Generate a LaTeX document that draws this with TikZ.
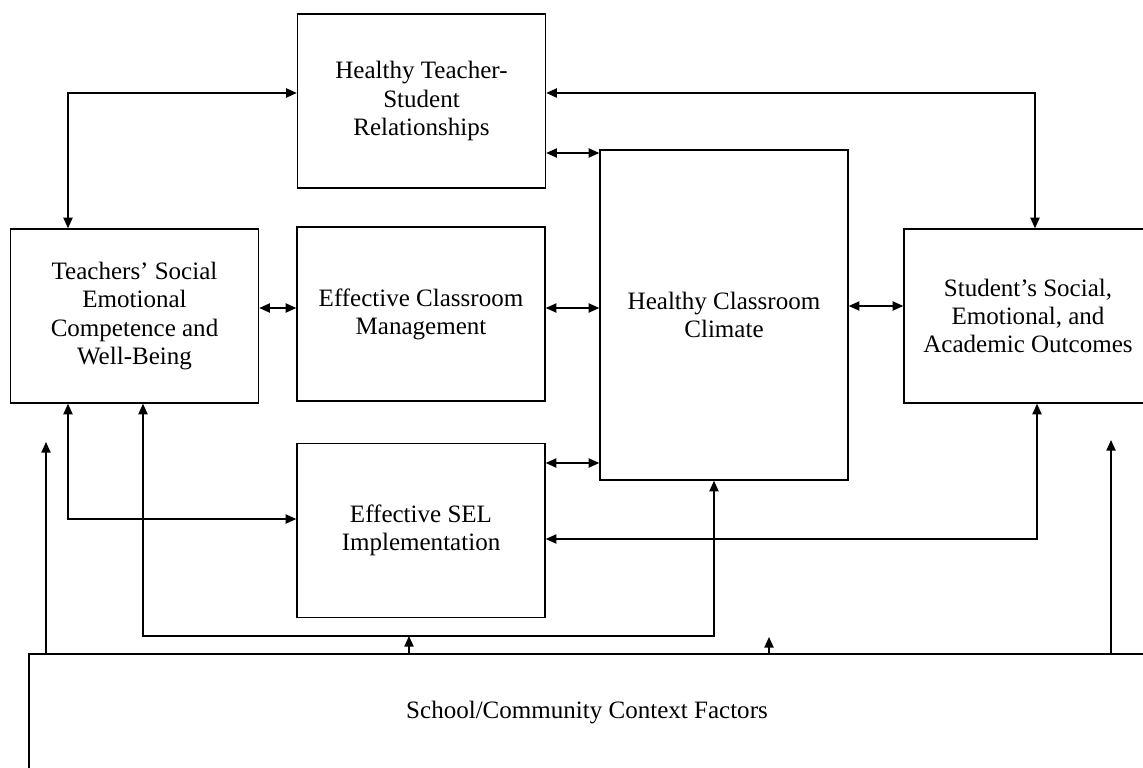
\documentclass[tikz,border=0pt]{standalone}
\usepackage{fontspec}
\setmainfont{Liberation Serif}
\usetikzlibrary{arrows.meta}

\begin{document}
\begin{tikzpicture}[
    x = 0.025cm, y = -0.025cm,
    line width = 1pt,
    every node/.style = {font = \fontsize{17.8}{20}\selectfont, align = center},
    box/.style = {draw, minimum width = 6.2cm, minimum height = 4.35cm, inner sep = 0pt},
    twoway/.style = {{Triangle[length=7.5pt,width=6.5pt]}-{Triangle[length=7.5pt,width=6.5pt]}},
    oneway/.style = {-{Triangle[length=7.5pt,width=6.5pt]}}]

\useasboundingbox (0,0) rectangle (1143,768);
\clip (0,0) rectangle (1143,768);

\node[box] (rel) at (421.5,101) {Healthy Teacher-\\Student\\Relationships};
\node[box] (teach) at (134.5,316) {Teachers' Social\\Emotional\\Competence and\\Well-Being};
\node[box] (mgmt) at (421,314) {Effective Classroom\\Management};
\node[box, minimum height = 8.25cm] (climate) at (724,315) {Healthy Classroom\\Climate};
\node[box] (outc) at (1028,316) {Student's Social,\\Emotional, and\\Academic Outcomes};
\node[box] (sel) at (421,530.5) {Effective SEL\\Implementation};
\node[box, minimum width = 27.9cm, minimum height = 2.95cm] (ctx) at (587,713)
    {School/Community Context Factors};

% bend points and row heights
\coordinate (ka) at (68,93);
\coordinate (kb) at (1035,93);
\coordinate (kc) at (68,519);
\coordinate (kd) at (1037,539);
\coordinate (ke) at (143,636);
\coordinate (kf) at (714,636);
\coordinate (r1) at (0,153);
\coordinate (r2) at (0,308);
\coordinate (r3) at (0,306);
\coordinate (r4) at (0,463);

\draw[twoway] (teach.north -| ka) |- (rel.west |- ka);
\draw[twoway] (rel.east |- kb) -| (outc.north -| kb);
\draw[twoway] (rel.east |- r1) -- (climate.west |- r1);
\draw[twoway] (teach.east |- r2) -- (mgmt.west |- r2);
\draw[twoway] (mgmt.east |- r2) -- (climate.west |- r2);
\draw[twoway] (climate.east |- r3) -- (outc.west |- r3);
\draw[twoway] (sel.east |- r4) -- (climate.west |- r4);
\draw[twoway] (teach.south -| kc) |- (sel.west |- kc);
\draw[twoway] (outc.south -| kd) |- (sel.east |- kd);
\draw[twoway] (teach.south -| ke) |- (kf) -- (climate.south -| kf);

% context factors feeding upwards
\coordinate (kg) at (46,442);
\coordinate (kh) at (1111,440);
\coordinate (ki) at (409,636);
\coordinate (kj) at (769,637);
\foreach \p in {kg,kh,ki,kj}
    \draw[oneway] (ctx.north -| \p) -- (\p);
\end{tikzpicture}
\end{document}
